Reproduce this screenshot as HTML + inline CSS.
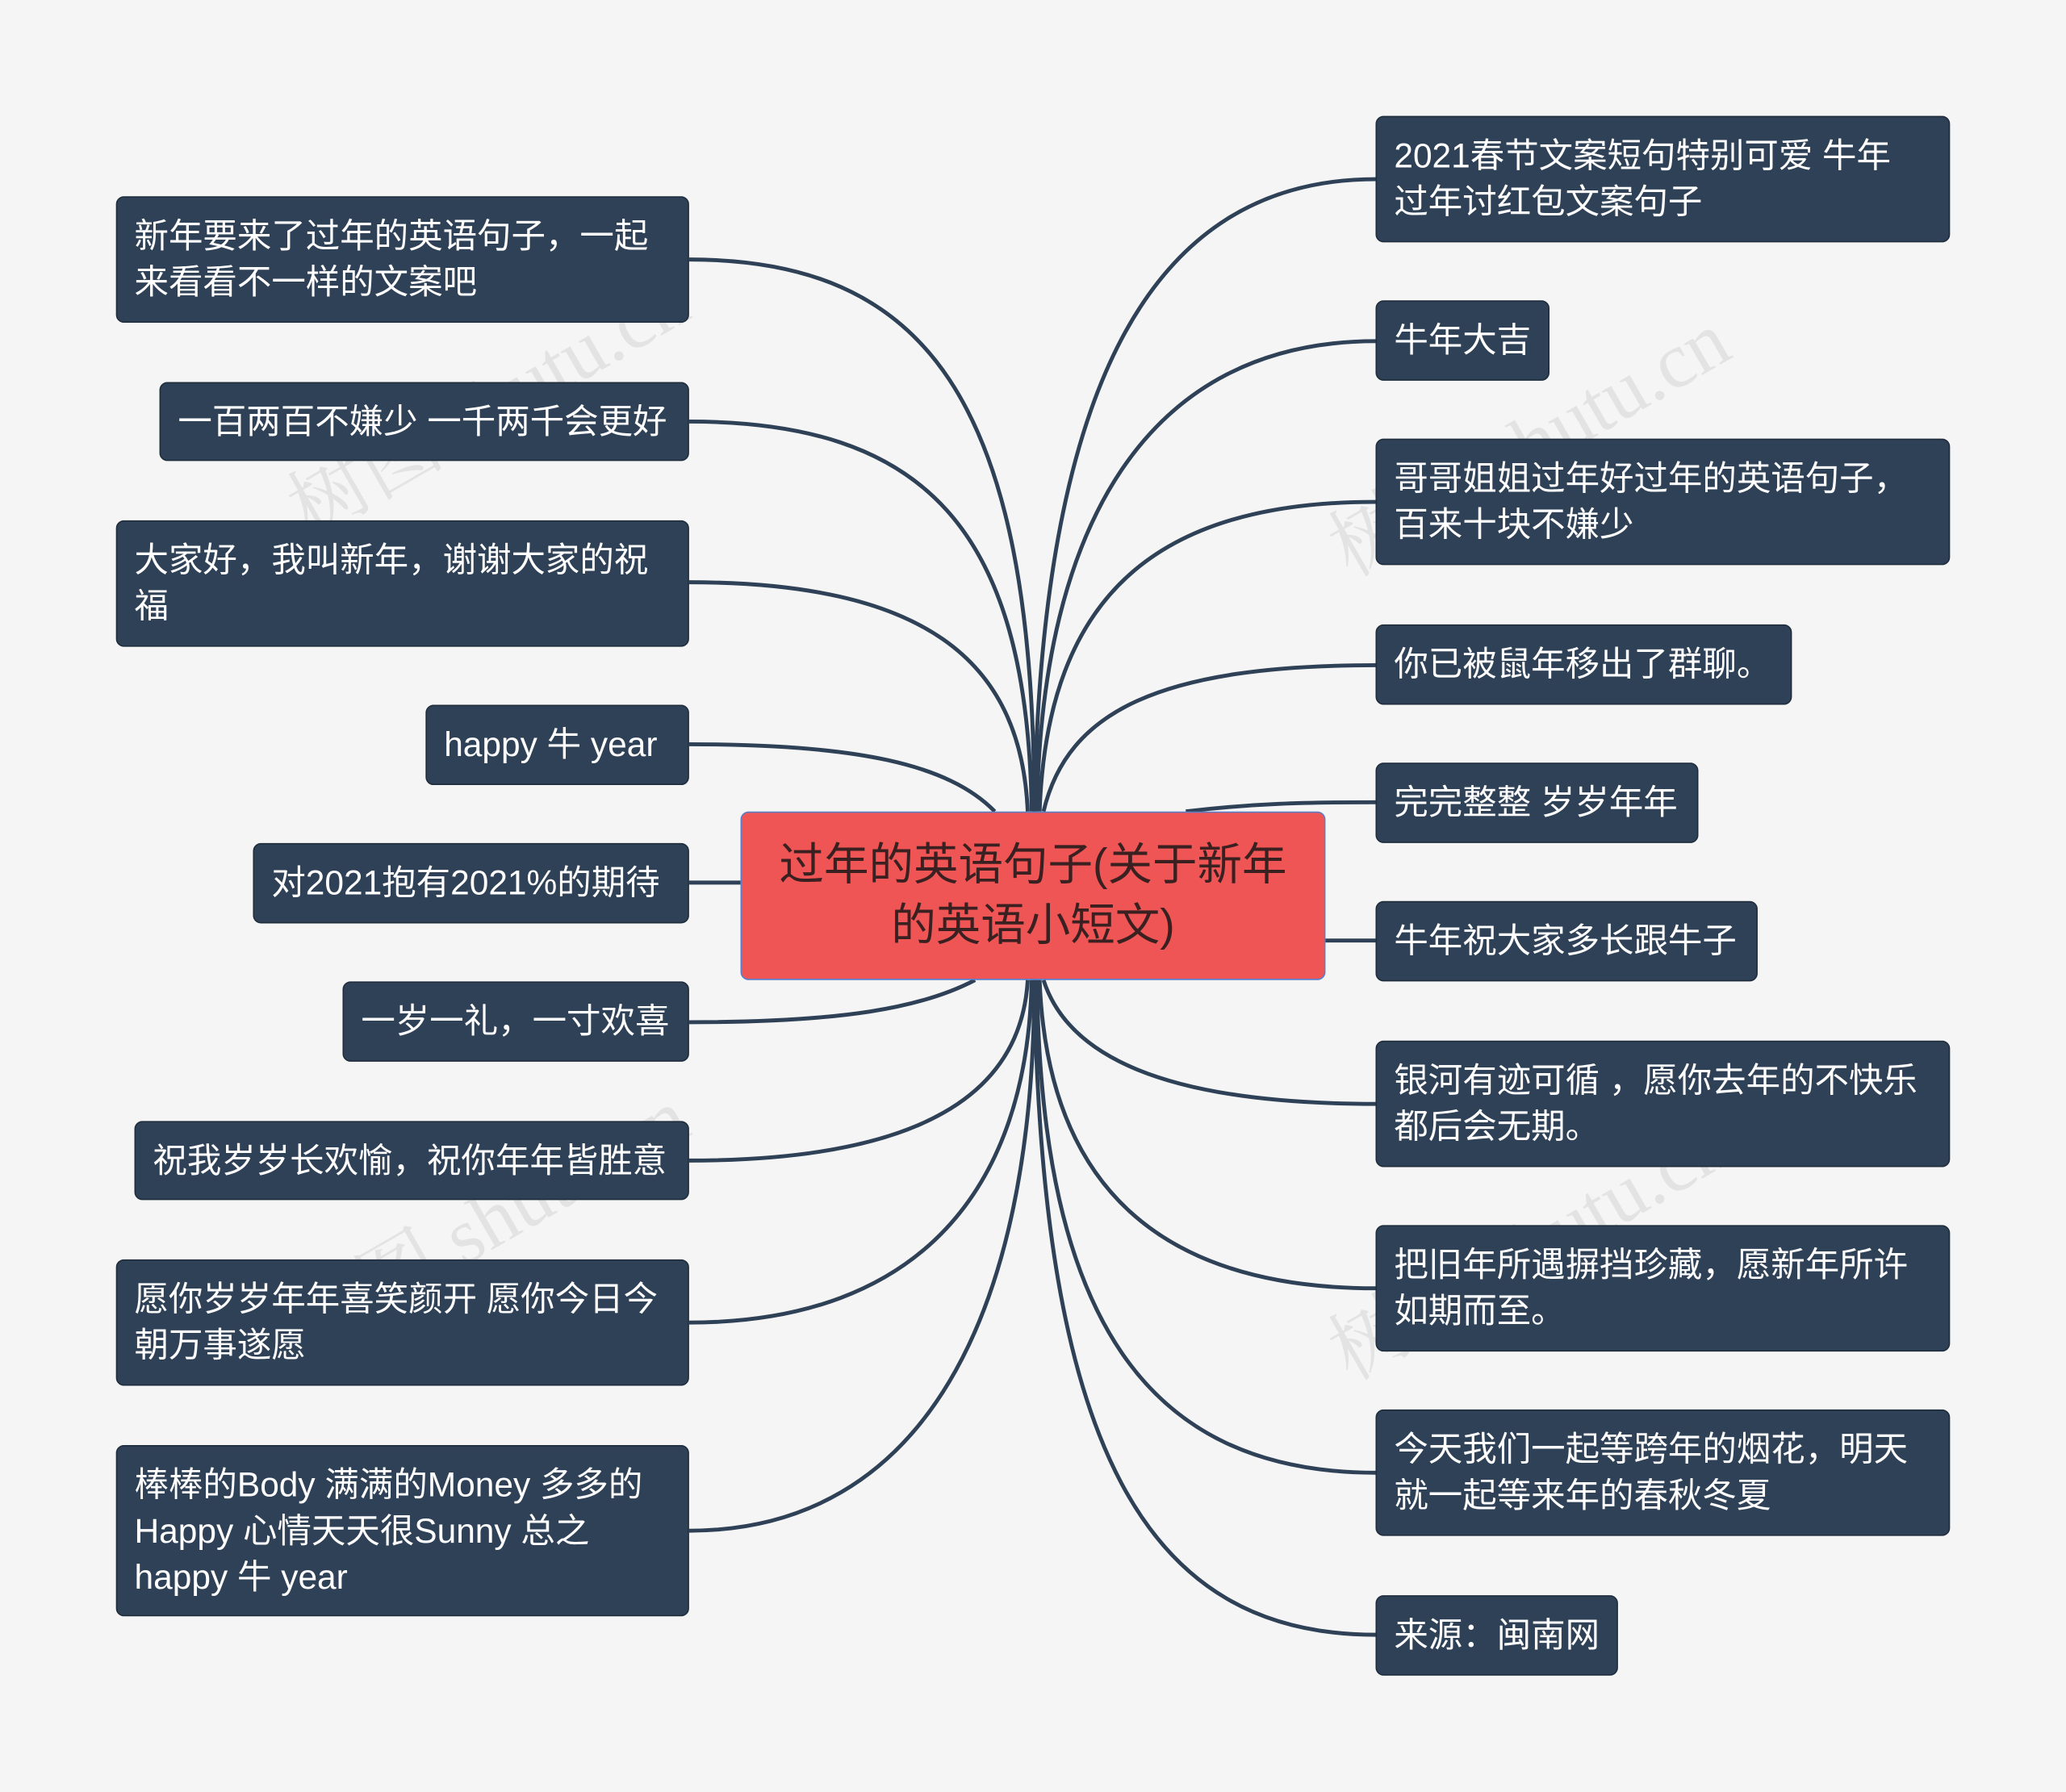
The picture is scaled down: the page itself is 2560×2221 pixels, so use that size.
<!DOCTYPE html>
<html><head><meta charset="utf-8">
<style>
html,body{margin:0;padding:0;background:#f5f5f5;width:2560px;height:2221px;overflow:hidden}
#w{position:absolute;left:0;top:0;width:1568px;height:1360px;transform:scale(1.63265);transform-origin:0 0;background:#f5f5f5}
.n{position:absolute;box-sizing:border-box;background:#2f4157;border:1.5px solid #1f2d3d;border-radius:6px;color:#fff;font-family:"Liberation Sans","Noto Sans CJK SC",sans-serif;font-size:26px;line-height:35px;padding:12px 13px;white-space:nowrap}
.c{position:absolute;left:562px;top:616px;width:444px;height:128px;box-sizing:border-box;background:#ef5555;border:1.5px solid #5a7fc8;border-radius:6px;color:#3a2020;font-family:"Liberation Sans","Noto Sans CJK SC",sans-serif;font-size:34px;line-height:46px;text-align:center;padding-top:17px}
.wm{position:absolute;font-family:"Liberation Serif","Noto Serif CJK SC",serif;font-size:60px;color:rgba(0,0,0,0.07);transform:rotate(-30deg);white-space:nowrap}
svg{position:absolute;left:0;top:0}
</style></head><body><div id="w">
<svg width="1568" height="1360" fill="none" stroke="#2f4157" stroke-width="3">
<!-- left -->
<path d="M785 616 C785 300 700 197 523 197"/>
<path d="M783 616 C780 400 700 320 523 320"/>
<path d="M780 616 C775 500 700 442 523 442"/>
<path d="M755 616 C720 580 650 565 523 565"/>
<path d="M562 670 L523 670"/>
<path d="M740 744 C700 765 640 776 523 776"/>
<path d="M780 744 C775 830 700 881 523 881"/>
<path d="M783 744 C780 900 700 1004 523 1004"/>
<path d="M785 744 C785 1000 700 1162 523 1162"/>
<!-- right -->
<path d="M785 616 C790 300 870 136 1044 136"/>
<path d="M787 616 C790 400 870 259 1044 259"/>
<path d="M789 616 C795 450 880 381 1044 381"/>
<path d="M792 616 C810 540 880 505 1044 505"/>
<path d="M900 616 C950 610 990 609 1044 609"/>
<path d="M1006 714 L1044 714"/>
<path d="M792 744 C810 800 880 838 1044 838"/>
<path d="M789 744 C795 900 880 978 1044 978"/>
<path d="M787 744 C790 1000 870 1118 1044 1118"/>
<path d="M785 744 C790 1100 870 1241 1044 1241"/>
</svg>
<div class="wm" style="left:200px;top:260px">树图 shutu.cn</div>
<div class="wm" style="left:990px;top:290px">树图 shutu.cn</div>
<div class="wm" style="left:200px;top:880px">树图 shutu.cn</div>
<div class="wm" style="left:990px;top:900px">树图 shutu.cn</div>

<div class="c">过年的英语句子(关于新年<br>的英语小短文)</div>

<div class="n" style="left:88px;top:149px;width:435px;height:96px">新年要来了过年的英语句子，一起<br>来看看不一样的文案吧</div>
<div class="n" style="left:121px;top:290px;width:402px;height:60px">一百两百不嫌少 一千两千会更好</div>
<div class="n" style="left:88px;top:395px;width:435px;height:96px">大家好，我叫新年，谢谢大家的祝<br>福</div>
<div class="n" style="left:323px;top:535px;width:200px;height:61px">happy 牛 year</div>
<div class="n" style="left:192px;top:640px;width:331px;height:61px">对2021抱有2021%的期待</div>
<div class="n" style="left:260px;top:745px;width:263px;height:61px">一岁一礼，一寸欢喜</div>
<div class="n" style="left:102px;top:851px;width:421px;height:60px">祝我岁岁长欢愉，祝你年年皆胜意</div>
<div class="n" style="left:88px;top:956px;width:435px;height:96px">愿你岁岁年年喜笑颜开 愿你今日今<br>朝万事遂愿</div>
<div class="n" style="left:88px;top:1097px;width:435px;height:130px">棒棒的Body 满满的Money 多多的<br>Happy 心情天天很Sunny 总之<br>happy 牛 year</div>

<div class="n" style="left:1044px;top:88px;width:436px;height:96px">2021春节文案短句特别可爱 牛年<br>过年讨红包文案句子</div>
<div class="n" style="left:1044px;top:228px;width:132px;height:61px">牛年大吉</div>
<div class="n" style="left:1044px;top:333px;width:436px;height:96px">哥哥姐姐过年好过年的英语句子，<br>百来十块不嫌少</div>
<div class="n" style="left:1044px;top:474px;width:316px;height:61px">你已被鼠年移出了群聊。</div>
<div class="n" style="left:1044px;top:579px;width:245px;height:61px">完完整整 岁岁年年</div>
<div class="n" style="left:1044px;top:684px;width:290px;height:61px">牛年祝大家多长跟牛子</div>
<div class="n" style="left:1044px;top:790px;width:436px;height:96px">银河有迹可循 ，愿你去年的不快乐<br>都后会无期。</div>
<div class="n" style="left:1044px;top:930px;width:436px;height:96px">把旧年所遇摒挡珍藏，愿新年所许<br>如期而至。</div>
<div class="n" style="left:1044px;top:1070px;width:436px;height:96px">今天我们一起等跨年的烟花，明天<br>就一起等来年的春秋冬夏</div>
<div class="n" style="left:1044px;top:1211px;width:184px;height:61px">来源：闽南网</div>
</div></body></html>
